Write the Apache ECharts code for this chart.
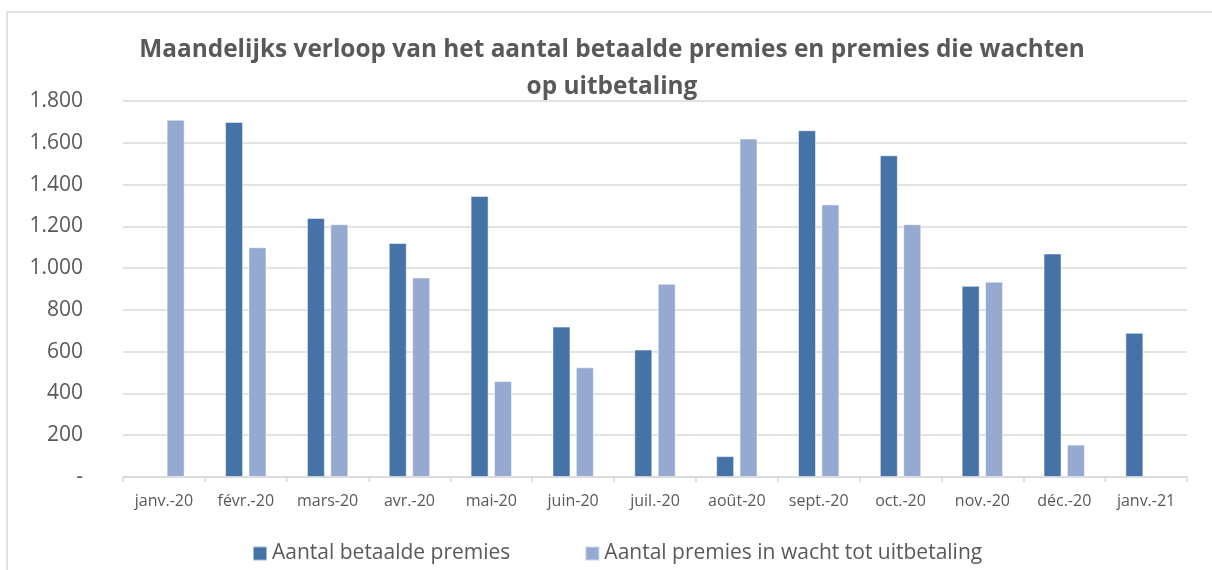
<!DOCTYPE html>
<html>
<head>
<meta charset="utf-8">
<script src="https://cdn.jsdelivr.net/npm/echarts@6/dist/echarts.min.js"></script>
<style>
  html, body { margin: 0; padding: 0; background: #fff; }
  #chart { width: 1212px; height: 570px; }
</style>
</head>
<body>
<div id="chart"></div>
<script>
// maanden (x-as)
var maanden = ['janv.-20', 'févr.-20', 'mars-20', 'avr.-20', 'mai-20', 'juin-20', 'juil.-20',
  'août-20', 'sept.-20', 'oct.-20', 'nov.-20', 'déc.-20', 'janv.-21'];
// Aantal betaalde premies (geen waarde = null)
var betaald = [null, 1700, 1240, 1120, 1345, 720, 610, 100, 1660, 1540, 915, 1070, 690];
// Aantal premies in wacht tot uitbetaling
var inWacht = [1710, 1100, 1210, 955, 460, 525, 925, 1620, 1305, 1210, 935, 155, null];

var tekstKleur = '#595959';
var rasterKleur = '#d9d9d9';

var chart = echarts.init(document.getElementById('chart'));
chart.setOption({
  animation: false,
  textStyle: { fontFamily: 'Open Sans' },
  title: {
    text: 'Maandelijks verloop van het aantal betaalde premies en premies die wachten\nop uitbetaling',
    left: 607,
    top: 27,
    textAlign: 'center',
    textStyle: {
      color: tekstKleur,
      fontSize: 24.4,
      fontWeight: 'bold',
      lineHeight: 37,
      fontFamily: 'Open Sans'
    }
  },
  legend: {
    left: 247,
    top: 538,
    itemWidth: 14,
    itemHeight: 14,
    itemGap: 74,
    icon: 'rect',
    textStyle: { color: tekstKleur, fontSize: 21 },
    data: ['Aantal betaalde premies', 'Aantal premies in wacht tot uitbetaling']
  },
  grid: { left: 123, right: 25, top: 101, bottom: 93, containLabel: false },
  xAxis: {
    type: 'category',
    data: maanden,
    axisLine: { lineStyle: { color: rasterKleur, width: 1.5 } },
    axisTick: { show: true, length: 5, lineStyle: { color: rasterKleur, width: 1.5 } },
    axisLabel: { color: tekstKleur, fontSize: 16, margin: 16, interval: 0 }
  },
  yAxis: {
    type: 'value',
    min: 0,
    max: 1800,
    interval: 200,
    axisLine: { show: false },
    axisTick: { show: false },
    splitLine: { lineStyle: { color: rasterKleur, width: 1.5 } },
    axisLabel: {
      color: tekstKleur,
      fontSize: 21,
      margin: 40,
      formatter: function (v) {
        if (v === 0) return '-';
        return v.toString().replace(/\B(?=(\d{3})+(?!\d))/g, '.');
      }
    }
  },
  series: [
    {
      name: 'Aantal betaalde premies',
      type: 'bar',
      data: betaald,
      barWidth: 18,
      barGap: '30%',
      itemStyle: { color: '#4673a7', borderColor: 'rgba(255,255,255,0.5)', borderWidth: 1 }
    },
    {
      name: 'Aantal premies in wacht tot uitbetaling',
      type: 'bar',
      data: inWacht,
      barWidth: 18,
      barGap: '30%',
      itemStyle: { color: '#95a9d1', borderColor: 'rgba(255,255,255,0.5)', borderWidth: 1 }
    }
  ],
  graphic: [
    {
      type: 'polyline',
      shape: { points: [[7, 570], [7, 12], [1212, 12]] },
      style: { stroke: rasterKleur, lineWidth: 1.5, fill: null },
      silent: true
    }
  ]
});
</script>
</body>
</html>
